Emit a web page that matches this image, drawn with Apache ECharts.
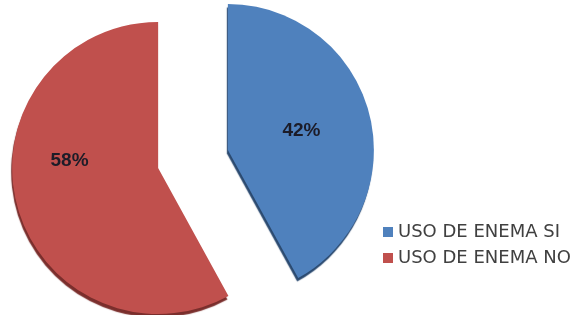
<!DOCTYPE html>
<html>
<head>
<meta charset="utf-8">
<script src="https://cdn.jsdelivr.net/npm/echarts@6/dist/echarts.min.js"></script>
<style>
  html, body { margin: 0; padding: 0; background: #fff; }
  #chart { width: 574px; height: 315px; }
</style>
</head>
<body>
<div id="chart"></div>
<script>
const categories = ['USO DE ENEMA SI', 'USO DE ENEMA NO'];
const values = [42, 58];
const colors = ['#4F81BD', '#C0504D'];
const edgeColors = ['#2B4A70', '#7A2E2C'];

const chart = echarts.init(document.getElementById('chart'));

const option = {
  animation: false,
  backgroundColor: '#ffffff',
  legend: {
    orient: 'vertical',
    left: 378,
    top: 218,
    icon: 'rect',
    itemWidth: 10,
    itemHeight: 10,
    itemGap: 8,
    data: categories,
    textStyle: {
      fontFamily: 'DejaVu Sans',
      fontSize: 18,
      lineHeight: 17,
      color: '#404040'
    }
  },
  series: [{
    type: 'pie',
    center: [193, 159],
    radius: 146,
    startAngle: 90,
    clockwise: true,
    selectedMode: 'multiple',
    selectedOffset: 36,
    emphasis: { disabled: true },
    label: {
      show: true,
      position: 'inside',
      formatter: '{c}%',
      fontFamily: 'Liberation Sans',
      fontWeight: 'bold',
      fontSize: 19,
      color: '#1c1c28'
    },
    labelLine: { show: false },
    labelLayout: function (params) {
      // Excel placed the 58% label a bit higher than the slice middle
      if (params.dataIndex === 1) return { dx: -15, dy: -26 };
      return {};
    },
    data: categories.map((name, i) => ({
      name: name,
      value: values[i],
      selected: true,
      itemStyle: {
        color: colors[i],
        shadowColor: edgeColors[i],
        shadowBlur: 1,
        shadowOffsetX: -1,
        shadowOffsetY: 3.5
      }
    }))
  }]
};

chart.setOption(option);
</script>
</body>
</html>
